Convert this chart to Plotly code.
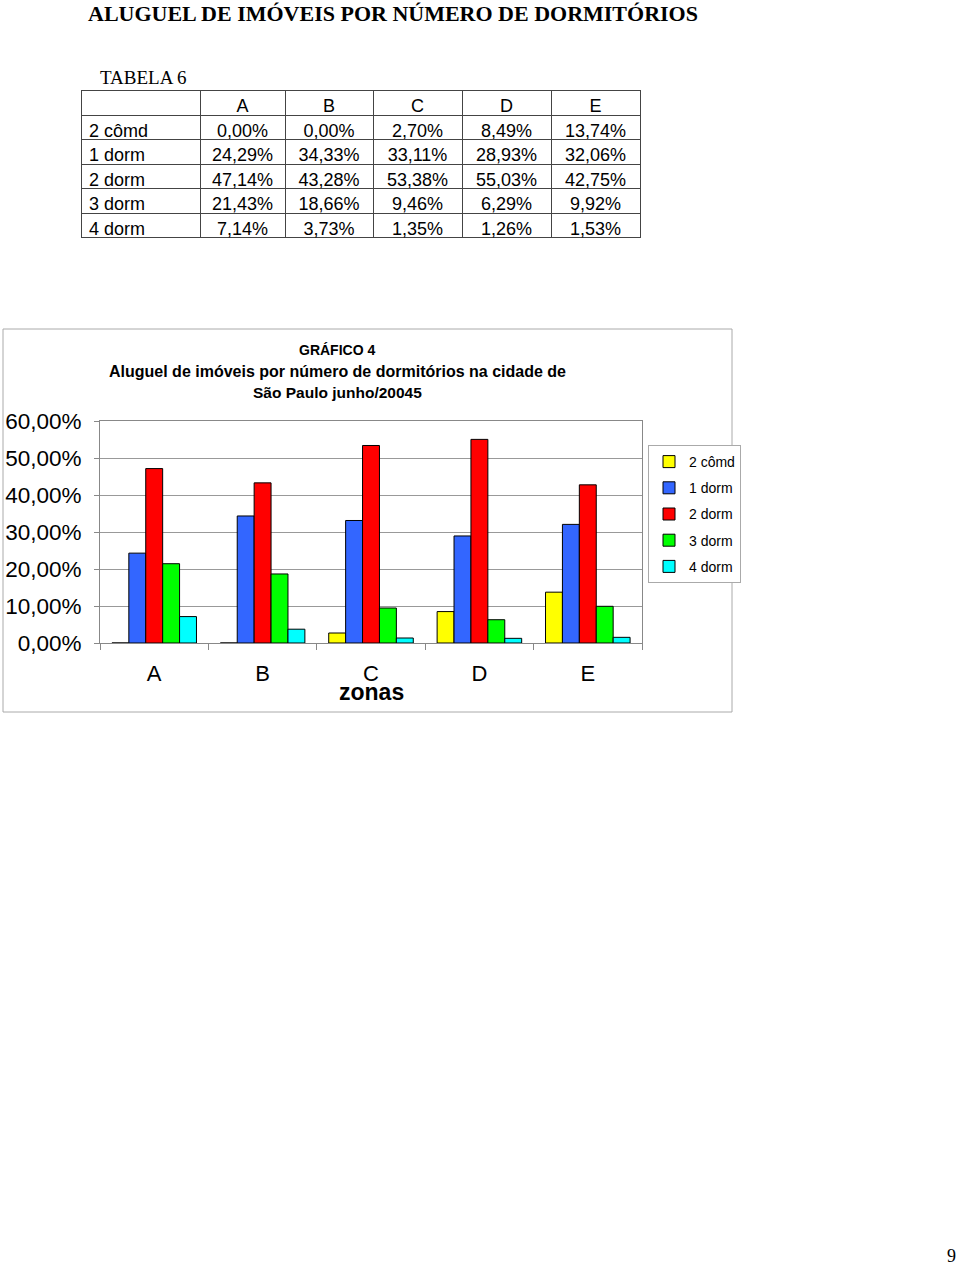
import plotly.graph_objects as go

zones = ["A", "B", "C", "D", "E"]
series_names = ["2 cômd", "1 dorm", "2 dorm", "3 dorm", "4 dorm"]
v_2comd = [0.00, 0.00, 2.70, 8.49, 13.74]
v_1dorm = [24.29, 34.33, 33.11, 28.93, 32.06]
v_2dorm = [47.14, 43.28, 53.38, 55.03, 42.75]
v_3dorm = [21.43, 18.66, 9.46, 6.29, 9.92]
v_4dorm = [7.14, 3.73, 1.35, 1.26, 1.53]
series_values = [v_2comd, v_1dorm, v_2dorm, v_3dorm, v_4dorm]
colors = ["#FFFF00", "#3366FF", "#FF0000", "#00FF00", "#00FFFF"]

W, H = 960, 1266
def px(x):
    return x / W
def py(y):
    return 1 - y / H

def fmt(v):
    return f"{v:.2f}".replace(".", ",") + "%"

fig = go.Figure()

# Table
fig.add_trace(go.Table(
    domain=dict(x=[px(81), px(640)], y=[py(241), py(90)]),
    columnwidth=[119, 85, 88, 89, 89, 89],
    header=dict(
        values=[""] + zones,
        align=["left", "center"],
        line=dict(color="#444444", width=1),
        fill=dict(color="white"),
        font=dict(family="Liberation Sans, Arial", size=18, color="black"),
        height=25,
    ),
    cells=dict(
        values=[series_names] + [[fmt(s[i]) for s in series_values] for i in range(len(zones))],
        align=["left", "center"],
        line=dict(color="#444444", width=1),
        fill=dict(color="white"),
        font=dict(family="Liberation Sans, Arial", size=18, color="black"),
        height=24.5,
    ),
))

for name, vals, col in zip(series_names, series_values, colors):
    fig.add_trace(go.Bar(
        x=zones, y=[v / 100 for v in vals], name=name,
        marker=dict(color=col, line=dict(color="black", width=1)),
        legendgroup=name,
    ))

fig.update_layout(
    width=W, height=H,
    margin=dict(l=0, r=0, t=0, b=0, pad=0, autoexpand=False),
    paper_bgcolor="white", plot_bgcolor="white",
    separators=",.",
    barmode="group", bargap=0.22, bargroupgap=0,
    font=dict(family="Liberation Sans, Arial", color="black"),
    showlegend=True,
    legend=dict(
        x=px(648), y=py(445), xanchor="left", yanchor="top",
        bgcolor="white", bordercolor="#AAAAAA", borderwidth=1,
        font=dict(family="Liberation Sans, Arial", size=14, color="black"),
        itemwidth=30, tracegroupgap=5,
    ),
    xaxis=dict(
        domain=[px(100), px(642)],
        anchor="y",
        type="category",
        tickson="boundaries",
        ticks="outside", ticklen=6, tickcolor="#888888",
        showline=True, linecolor="#888888", mirror=True,
        showgrid=False,
        tickfont=dict(size=22, family="Liberation Sans, Arial", color="black"),
        ticklabelstandoff=11,
    ),
    yaxis=dict(
        domain=[py(643), py(421)],
        anchor="x",
        range=[0, 0.6],
        dtick=0.1,
        tickformat=".2%",
        showgrid=True, gridcolor="#999999", gridwidth=1,
        showline=True, linecolor="#888888", mirror=True,
        zeroline=True, zerolinecolor="#333333", zerolinewidth=1,
        ticks="outside", ticklen=5, tickcolor="#888888",
        tickfont=dict(size=22.5, family="Liberation Sans, Arial", color="black"),
        ticklabelstandoff=8,
    ),
    shapes=[
        dict(type="rect", xref="paper", yref="paper",
             x0=px(3), x1=px(732), y0=py(712), y1=py(329),
             line=dict(color="#AAAAAA", width=1), layer="below"),
    ],
    annotations=[
        dict(text="<b>ALUGUEL DE IMÓVEIS POR NÚMERO DE DORMITÓRIOS</b>",
             x=px(86), y=py(13), xref="paper", yref="paper",
             xanchor="left", yanchor="middle", showarrow=False,
             font=dict(family="Liberation Serif, Times New Roman", size=22, color="black")),
        dict(text="TABELA 6",
             x=px(98), y=py(78), xref="paper", yref="paper",
             xanchor="left", yanchor="middle", showarrow=False,
             font=dict(family="Liberation Serif, Times New Roman", size=19, color="black")),
        dict(text="<b>GRÁFICO 4</b>",
             x=px(337), y=py(350), xref="paper", yref="paper",
             xanchor="center", yanchor="middle", showarrow=False,
             font=dict(size=14, color="black")),
        dict(text="<b>Aluguel de imóveis por número de dormitórios na cidade de</b>",
             x=px(337), y=py(371), xref="paper", yref="paper",
             xanchor="center", yanchor="middle", showarrow=False,
             font=dict(size=16, color="black")),
        dict(text="<b>São Paulo junho/20045</b>",
             x=px(337), y=py(392), xref="paper", yref="paper",
             xanchor="center", yanchor="middle", showarrow=False,
             font=dict(size=15.5, color="black")),
        dict(text="<b>zonas</b>",
             x=px(371), y=py(692), xref="paper", yref="paper",
             xanchor="center", yanchor="middle", showarrow=False,
             font=dict(size=23, color="black")),
        dict(text="9",
             x=px(951), y=py(1256), xref="paper", yref="paper",
             xanchor="center", yanchor="middle", showarrow=False,
             font=dict(family="Liberation Serif, Times New Roman", size=18, color="black")),
    ],
)

fig.write_html("out.html")
